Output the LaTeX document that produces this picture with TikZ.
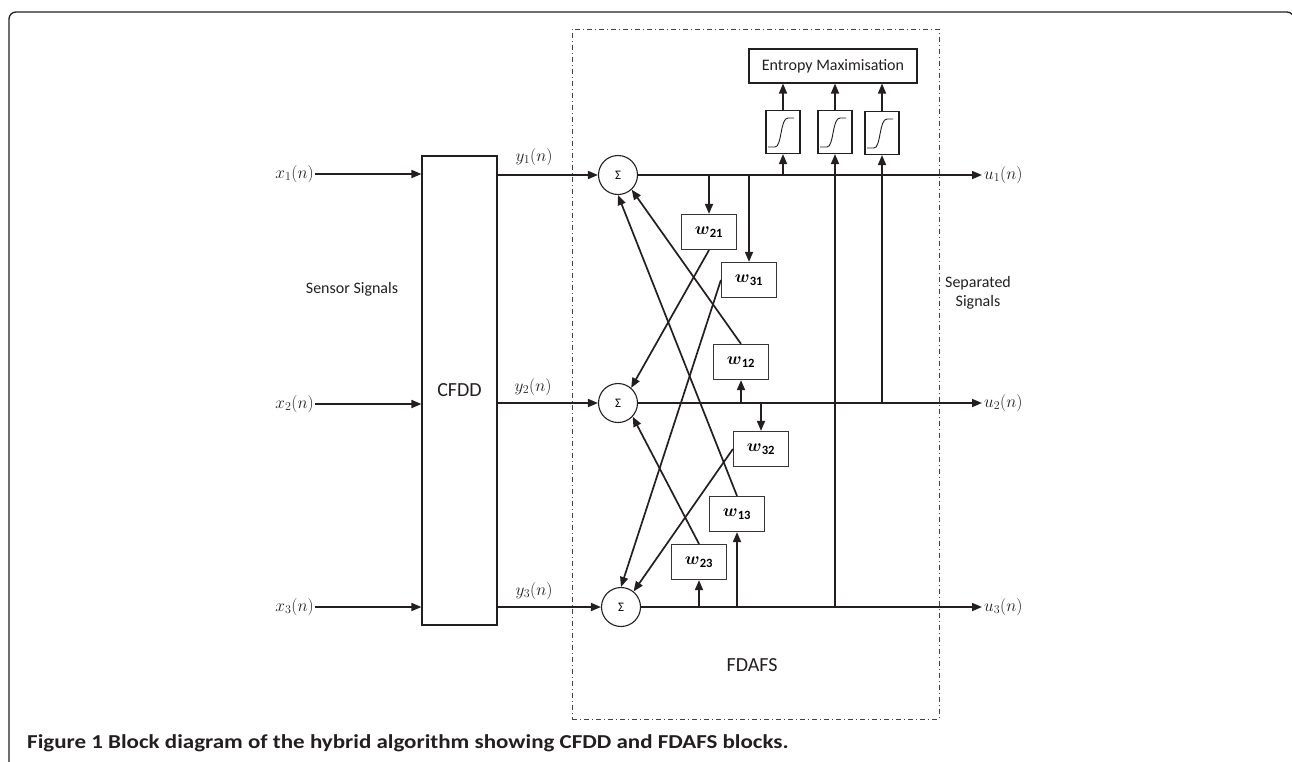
\documentclass[tikz,border=0pt]{standalone}
\usepackage{amsmath}
\usepackage{fontspec}
\setmainfont{Carlito}
\usetikzlibrary{arrows.meta}
\definecolor{lc}{HTML}{231F20}
\tikzset{
  ln/.style={line width=1.7pt, draw=lc},
  arr/.style={ln, -{Triangle[length=10pt,width=8pt]}},
  sumnode/.style={circle, draw=lc, line width=1.1pt, minimum size=39pt, inner sep=0pt, font=\fontsize{13}{15}\selectfont},
  wbox/.style={rectangle, draw=lc!90, line width=1.2pt, minimum width=55pt, minimum height=35pt, inner sep=0pt, font=\fontsize{18}{21}\selectfont},
  sgbox/.style={rectangle, draw=lc, line width=1.1pt, minimum width=34pt, minimum height=43pt, inner sep=0pt},
  lbl/.style={font=\fontsize{16}{19}\selectfont, inner sep=1pt, text=lc},
  mlbl/.style={font=\fontsize{17}{20}\selectfont, inner sep=1pt, text=lc},
  big/.style={font=\fontsize{20}{24}\selectfont, text=lc},
  dashdotbox/.style={draw=lc!85, line width=0.8pt, dash pattern=on 5pt off 3pt on 1pt off 3pt},
}
\begin{document}
\begin{tikzpicture}[x=1pt,y=-1pt]
\useasboundingbox (0,0) rectangle (1292,761);
% outer frame
\draw[line width=1.3pt, draw=lc, rounded corners=7pt] (9,775) -- (9,12) -- (1294,12) -- (1294,775);
% FDAFS dash-dot region
\node[dashdotbox, minimum width=367pt, minimum height=690pt, inner sep=0pt] (fd) at (755.5,374) {};
\node[big] (fdlbl) at (752,665) {FDAFS};
% CFDD block
\node[rectangle, draw=lc, line width=1.1pt, minimum width=75pt, minimum height=469pt, inner sep=0pt, big] (cfdd) at (459.5,390.5) {CFDD};
% input labels
\node[mlbl, anchor=east] (x1) at (315,174) {$x_1(n)$};
\node[mlbl, anchor=east] (x2) at (315,404) {$x_2(n)$};
\node[mlbl, anchor=east] (x3) at (315,607) {$x_3(n)$};
\node[lbl] (sens) at (352,289) {Sensor Signals};
\draw[arr] (x1.east) -- (cfdd.west |- x1.east);
\draw[arr] (x2.east) -- (cfdd.west |- x2.east);
\draw[arr] (x3.east) -- (cfdd.west |- x3.east);
% sum nodes
\node[sumnode] (s1) at (618,175) {Σ};
\node[sumnode] (s2) at (618,403) {Σ};
\node[sumnode] (s3) at (621,607) {Σ};
% y lines
\draw[arr] (cfdd.east |- s1) -- (s1.west);
\draw[arr] (cfdd.east |- s2) -- (s2.west);
\draw[arr] (cfdd.east |- s3) -- (s3.west);
\node[mlbl] (y1) at (534,157) {$y_1(n)$};
\node[mlbl] (y2) at (533,387) {$y_2(n)$};
\node[mlbl] (y3) at (534,591) {$y_3(n)$};
% outputs
\coordinate (o1) at (982,175);
\coordinate (o2) at (982,403);
\coordinate (o3) at (982,607);
\draw[arr] (s1.east) -- (o1);
\draw[arr] (s2.east) -- (o2);
\draw[arr] (s3.east) -- (o3);
\node[mlbl, anchor=west] (u1) at (983,175) {$u_1(n)$};
\node[mlbl, anchor=west] (u2) at (983,403) {$u_2(n)$};
\node[mlbl, anchor=west] (u3) at (983,607) {$u_3(n)$};
\node[lbl, align=center] (sep) at (978,293) {Separated\\Signals};
% entropy and sigmoids
\node[rectangle, draw=lc, line width=1.1pt, minimum width=168pt, minimum height=34pt, inner sep=0pt, lbl] (ent) at (833,66) {Entropy Maximisation};
\node[sgbox] (sg1) at (783,132) {};
\node[sgbox] (sg2) at (835,132) {};
\node[sgbox] (sg3) at (882,133) {};
\foreach \s in {sg1,sg2,sg3}{
  \draw[line width=0.9pt, draw=lc, shift={(\s.center)}] (-15,15) -- (-8,15) .. controls (-1,15) and (-3,-14) .. (5,-14) -- (11,-14);
  \draw[arr] (\s.north) -- (\s.north |- ent.south);
}
\coordinate (b1) at (783,175);
\coordinate (b2) at (835,607);
\coordinate (b3) at (882,403);
\draw[arr] (b1) -- (sg1.south);
\draw[arr] (b2) -- (sg2.south);
\draw[arr] (b3) -- (sg3.south);
% weight boxes
\node[wbox] (w21) at (709,232) {$\boldsymbol{w}_{\mathbf{21}}$};
\node[wbox] (w31) at (749,280) {$\boldsymbol{w}_{\mathbf{31}}$};
\node[wbox] (w12) at (741,362) {$\boldsymbol{w}_{\mathbf{12}}$};
\node[wbox] (w32) at (761,449) {$\boldsymbol{w}_{\mathbf{32}}$};
\node[wbox] (w13) at (737,514) {$\boldsymbol{w}_{\mathbf{13}}$};
\node[wbox] (w23) at (699,562) {$\boldsymbol{w}_{\mathbf{23}}$};
% taps
\draw[arr] (w21.north |- s1) -- (w21.north);
\draw[arr] (w31.north |- s1) -- (w31.north);
\draw[arr] (w12.south |- s2) -- (w12.south);
\draw[arr] (w32.north |- s2) -- (w32.north);
\draw[arr] (w23.south |- s3) -- (w23.south);
\draw[arr] (w13.south |- s3) -- (w13.south);
% cross feedback
\draw[arr] (w21.south) -- (s2.49);
\draw[arr] (w31.west) -- (s3.north);
\draw[arr] (w12.north) -- (s1.-47);
\draw[arr] (w13.north) -- (s1.south);
\draw[arr] (w32.west) -- (s3.51);
\draw[arr] (w23.north) -- (s2.-43);
% caption
\node[anchor=west, inner sep=0pt, text=lc, font=\fontsize{19}{22}\selectfont\bfseries] (cap) at (27,743) {\scalebox{1.21}[1.04]{Figure 1 Block diagram of the hybrid algorithm showing CFDD and FDAFS blocks.}};
\end{tikzpicture}
\end{document}
